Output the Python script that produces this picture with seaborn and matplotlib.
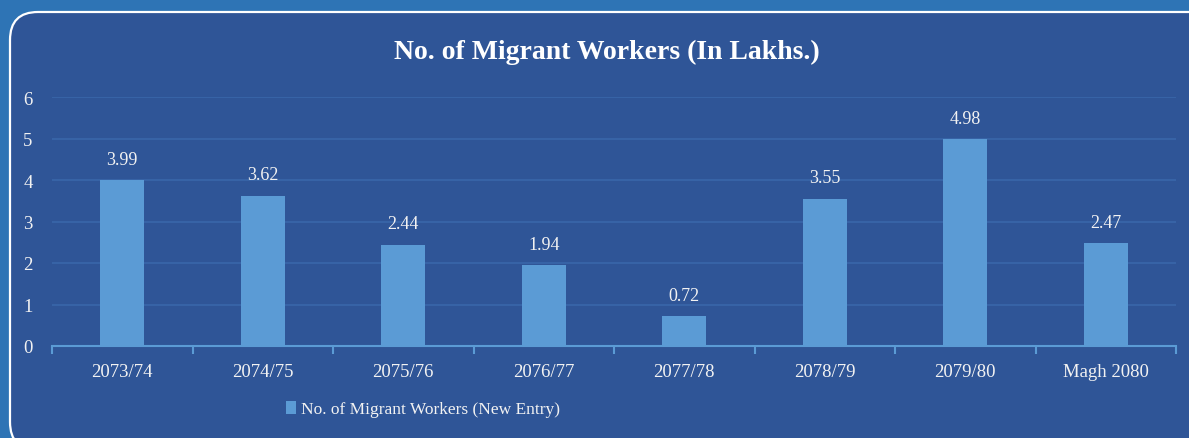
import matplotlib
matplotlib.use("Agg")
import matplotlib.pyplot as plt
import seaborn as sns
import pandas as pd
from matplotlib.patches import FancyBboxPatch, Patch
from matplotlib.transforms import IdentityTransform

# data
years = ["2073/74", "2074/75", "2075/76", "2076/77", "2077/78",
         "2078/79", "2079/80", "Magh 2080"]
workers = [3.99, 3.62, 2.44, 1.94, 0.72, 3.55, 4.98, 2.47]
yticks = [0, 1, 2, 3, 4, 5, 6]

title = "No. of Migrant Workers (In Lakhs.)"
series_name = "No. of Migrant Workers (New Entry)"

outer_bg = "#2E74B5"
panel_bg = "#2F5597"
bar_col = "#5B9BD5"
grid_col = "#3763A6"
txt_col = "#F2F2F2"

sns.set_style("white")
plt.rcParams["font.family"] = ["Liberation Serif", "DejaVu Serif"]

df = pd.DataFrame({"year": years, "workers": workers})

W, H = 1189, 439
fig = plt.figure(figsize=(W / 100, H / 100), dpi=100, facecolor=outer_bg)

# rounded panel behind the chart (pixel coords)
panel = FancyBboxPatch((10, -12), 1210, 438,
                       boxstyle="round,pad=0,rounding_size=28",
                       transform=IdentityTransform(),
                       facecolor=panel_bg, edgecolor="white", linewidth=1.6,
                       zorder=-5)
fig.patches.append(panel)

ax = fig.add_axes([52 / W, 1 - 347 / H, (1176 - 52) / W, (347 - 98) / H])
ax.set_facecolor("none")
ax.set_zorder(2)

sns.barplot(data=df, x="year", y="workers", color=bar_col, width=0.31,
            saturation=1, linewidth=0, edgecolor="none", ax=ax, zorder=3)

ax.bar_label(ax.containers[0], fmt="%.2f", padding=9, color=txt_col,
             fontsize=13)

ax.set_ylim(0, 6)
ax.set_xlim(-0.5, len(years) - 0.5)
ax.set_yticks(yticks)
ax.yaxis.grid(True, color=grid_col, linewidth=1.5, zorder=0)
ax.set_axisbelow(True)

for side in ["top", "right", "left"]:
    ax.spines[side].set_visible(False)
ax.spines["bottom"].set_color(bar_col)
ax.spines["bottom"].set_linewidth(1.5)
ax.spines["bottom"].set_zorder(4)

# small tick marks between categories
ax.set_xticks([i - 0.5 for i in range(len(years) + 1)], minor=True)
ax.tick_params(axis="x", which="minor", bottom=True, length=6, width=1.5,
               color=bar_col, direction="out")
ax.tick_params(axis="x", which="major", bottom=True, length=0, pad=12,
               labelsize=13.5, labelcolor=txt_col)
ax.tick_params(axis="y", length=0, pad=14, labelsize=13.5,
               labelcolor=txt_col)
ax.set_xlabel("")
ax.set_ylabel("")

fig.text(607 / W, 1 - 52 / H, title, ha="center", va="center",
         fontsize=20, fontweight="bold", color="white", zorder=3)

leg = fig.legend(handles=[Patch(facecolor=bar_col, edgecolor="none",
                                label=series_name)],
                 loc="center left", bbox_to_anchor=(286 / W, 1 - 410 / H),
                 frameon=False, fontsize=12.5, labelcolor=txt_col,
                 handlelength=0.6, handleheight=0.75, handletextpad=0.25,
                 borderpad=0, borderaxespad=0)
leg.set_zorder(3)

fig.savefig("out.png", dpi=100, facecolor=outer_bg)
